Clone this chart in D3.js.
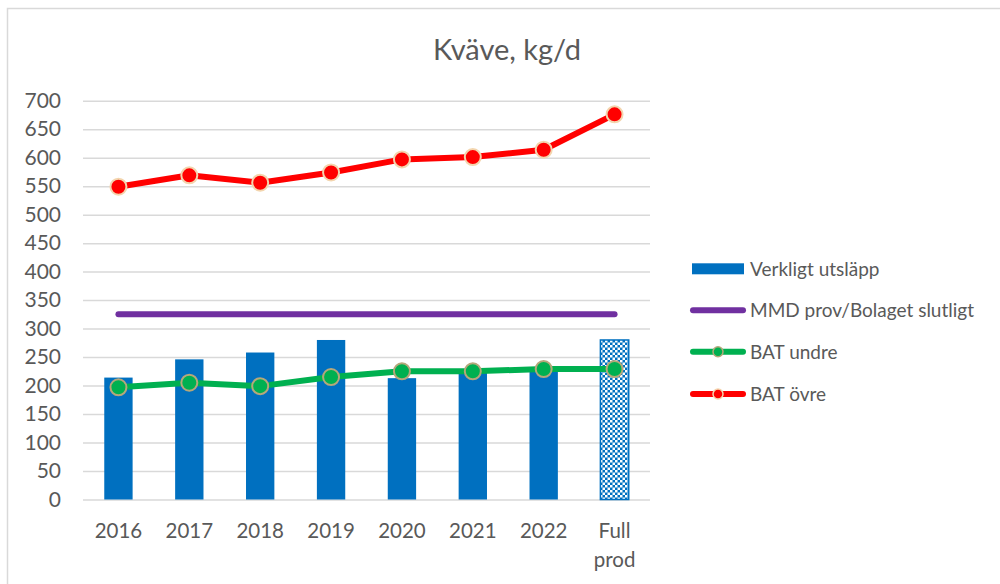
<!DOCTYPE html>
<html>
<head>
<meta charset="utf-8">
<script src="https://cdn.jsdelivr.net/npm/d3@7"></script>
<style>
  body { margin: 0; background: #fff; }
  svg text { font-family: Lato, "Open Sans", sans-serif; fill: #595959; }
</style>
</head>
<body>
<svg id="chart" width="1000" height="584"></svg>
<script>
// data
const categories = ["2016", "2017", "2018", "2019", "2020", "2021", "2022", "Full prod"];
const verkligt = [214, 246, 258, 280, 213, 222, 225, 280];
const mmd = [325, 325, 325, 325, 325, 325, 325, 325];
const batUndre = [197, 205, 199, 215, 225, 225, 229, 229];
const batOvre = [549, 569, 556, 574, 597, 601, 614, 676];
const yTicks = [0, 50, 100, 150, 200, 250, 300, 350, 400, 450, 500, 550, 600, 650, 700];
const legendNames = ["Verkligt utsläpp", "MMD prov/Bolaget slutligt", "BAT undre", "BAT övre"];

const svg = d3.select("#chart");
const plot = { left: 83, right: 650, top: 100.7, bottom: 499.5 };

// chart frame (right/bottom edges fall outside the picture)
svg.append("rect")
  .attr("x", 7.5).attr("y", 8.5)
  .attr("width", 1000).attr("height", 600)
  .attr("fill", "#fff").attr("stroke", "#d9d9d9").attr("stroke-width", 1.5);

const defs = svg.append("defs");
const pat = defs.append("pattern")
  .attr("id", "checks").attr("patternUnits", "userSpaceOnUse")
  .attr("width", 5).attr("height", 5);
pat.append("rect").attr("width", 5).attr("height", 5).attr("fill", "#0070c0");
pat.append("rect").attr("x", 0).attr("y", 0).attr("width", 2.5).attr("height", 2.5).attr("fill", "#fff");
pat.append("rect").attr("x", 2.5).attr("y", 2.5).attr("width", 2.5).attr("height", 2.5).attr("fill", "#fff");

const x = d3.scaleBand().domain(categories).range([plot.left, plot.right]);
const y = d3.scaleLinear().domain([0, 700]).range([plot.bottom, plot.top]);
const cx = d => x(d) + x.bandwidth() / 2;
const barW = x.bandwidth() * 0.4;

// title
svg.append("text")
  .attr("x", 507).attr("y", 60)
  .attr("text-anchor", "middle")
  .style("font-size", "29px")
  .text("Kväve, kg/d");

// gridlines
svg.append("g")
  .attr("transform", `translate(${plot.left},0)`)
  .call(d3.axisLeft(y).tickValues(yTicks).tickSize(-(plot.right - plot.left)).tickFormat(""))
  .call(g => g.select(".domain").remove())
  .call(g => g.selectAll("line").attr("stroke", "#d9d9d9").attr("stroke-width", 1.5));

// y labels
svg.append("g")
  .attr("transform", `translate(${plot.left},0)`)
  .call(d3.axisLeft(y).tickValues(yTicks).tickSize(0).tickPadding(22))
  .call(g => g.select(".domain").remove())
  .call(g => g.selectAll("text").style("font-size", "21px").attr("fill", "#595959"));

// x labels
const xa = svg.append("g")
  .attr("transform", `translate(0,${plot.bottom})`)
  .call(d3.axisBottom(x).tickSize(0).tickPadding(0))
  .call(g => g.select(".domain").remove());
xa.selectAll("text")
  .style("font-size", "20.5px").attr("fill", "#595959")
  .attr("dy", null).attr("y", 38)
  .each(function(d) {
    const t = d3.select(this);
    const parts = d.split(" ");
    t.text(null);
    parts.forEach((p, i) => {
      t.append("tspan").attr("x", 0).attr("y", 38 + i * 29).text(p);
    });
  });

// bars
svg.append("g").selectAll("rect")
  .data(categories)
  .enter().append("rect")
  .attr("x", d => cx(d) - barW / 2)
  .attr("y", (d, i) => y(verkligt[i]))
  .attr("width", barW)
  .attr("height", (d, i) => y(0) - y(verkligt[i]))
  .attr("fill", (d, i) => i === categories.length - 1 ? "url(#checks)" : "#0070c0")
  .attr("stroke", (d, i) => i === categories.length - 1 ? "#0070c0" : "none")
  .attr("stroke-width", 1.5);

// lines
const line = d3.line().x((v, i) => cx(categories[i])).y(v => y(v));

svg.append("path").datum(mmd)
  .attr("d", line).attr("fill", "none")
  .attr("stroke", "#7030a0").attr("stroke-width", 6).attr("stroke-linecap", "round");

function series(values, color, edge) {
  svg.append("path").datum(values)
    .attr("d", line).attr("fill", "none")
    .attr("stroke", color).attr("stroke-width", 6).attr("stroke-linejoin", "round");
  svg.append("g").selectAll("circle")
    .data(values)
    .enter().append("circle")
    .attr("cx", (v, i) => cx(categories[i]))
    .attr("cy", v => y(v))
    .attr("r", 8)
    .attr("fill", color)
    .attr("stroke", edge).attr("stroke-width", 2);
}
series(batUndre, "#00b050", "#b5a77a");
series(batOvre, "#ff0000", "#f3d5ae");

// legend
const lg = svg.append("g").attr("transform", "translate(690,0)");
const rows = [268.8, 310.3, 351.7, 394];
lg.append("rect").attr("x", 2).attr("y", rows[0] - 5.5).attr("width", 52).attr("height", 11).attr("fill", "#0070c0");
lg.append("line").attr("x1", 3).attr("x2", 53).attr("y1", rows[1]).attr("y2", rows[1])
  .attr("stroke", "#7030a0").attr("stroke-width", 6).attr("stroke-linecap", "round");
[[2, "#00b050", "#b5a77a"], [3, "#ff0000", "#f3d5ae"]].forEach(([k, c, e]) => {
  lg.append("line").attr("x1", 3).attr("x2", 53).attr("y1", rows[k]).attr("y2", rows[k])
    .attr("stroke", c).attr("stroke-width", 6).attr("stroke-linecap", "round");
  lg.append("circle").attr("cx", 28).attr("cy", rows[k]).attr("r", 5)
    .attr("fill", c).attr("stroke", e).attr("stroke-width", 1.5);
});
lg.selectAll("text.leg")
  .data(legendNames)
  .enter().append("text")
  .attr("class", "leg")
  .attr("x", 60)
  .attr("y", (d, i) => rows[i] + 6.8)
  .style("font-size", "19px")
  .text(d => d);
</script>
</body>
</html>
